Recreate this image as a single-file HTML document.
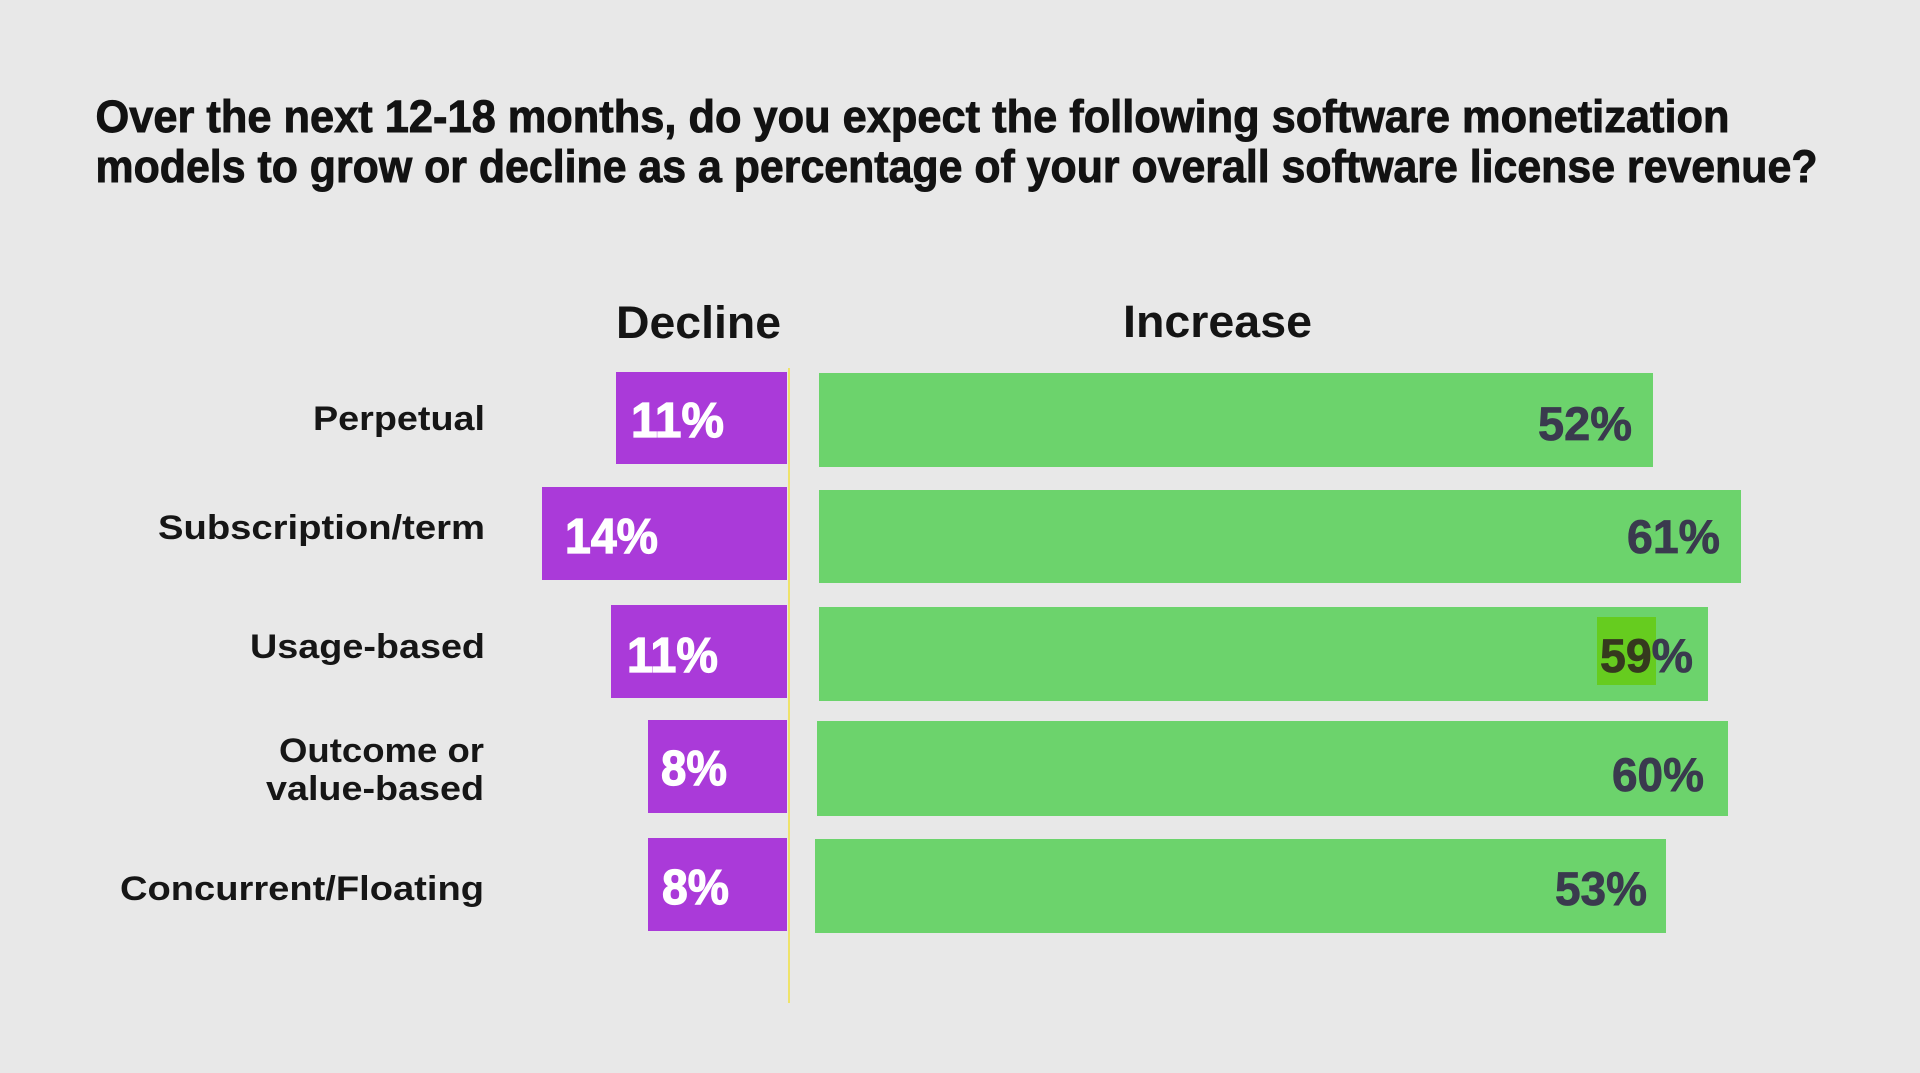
<!DOCTYPE html>
<html>
<head>
<meta charset="utf-8">
<style>
  html, body { margin:0; padding:0; background:#e8e8e8; }
  body { width:1920px; height:1073px; overflow:hidden; }
  svg { display:block; }
  text { font-family: "Liberation Sans", "DejaVu Sans", sans-serif; }
</style>
</head>
<body>
<svg width="1920" height="1073" viewBox="0 0 1920 1073" xmlns="http://www.w3.org/2000/svg">
  <rect x="0" y="0" width="1920" height="1073" fill="#e8e8e8"/>

  <!-- Title -->
  <g font-size="45" font-weight="bold" fill="#121212" stroke="#121212" stroke-width="0.9">
    <text x="95.5" y="132" textLength="1634" lengthAdjust="spacingAndGlyphs">Over the next 12-18 months, do you expect the following software monetization</text>
    <text x="95.5" y="182" textLength="1722" lengthAdjust="spacingAndGlyphs">models to grow or decline as a percentage of your overall software license revenue?</text>
  </g>

  <!-- Headers -->
  <text x="616" y="338" font-size="45" font-weight="bold" fill="#141414" textLength="165" lengthAdjust="spacingAndGlyphs">Decline</text>
  <text x="1123" y="337" font-size="45" font-weight="bold" fill="#141414" textLength="189" lengthAdjust="spacingAndGlyphs">Increase</text>

  <!-- Category labels -->
  <g font-size="34" font-weight="bold" fill="#161616" text-anchor="end">
    <text x="485" y="430" textLength="172" lengthAdjust="spacingAndGlyphs">Perpetual</text>
    <text x="485" y="539" textLength="327" lengthAdjust="spacingAndGlyphs">Subscription/term</text>
    <text x="485" y="658" textLength="235" lengthAdjust="spacingAndGlyphs">Usage-based</text>
    <text x="484" y="762" textLength="205" lengthAdjust="spacingAndGlyphs">Outcome or</text>
    <text x="484" y="800" textLength="218" lengthAdjust="spacingAndGlyphs">value-based</text>
    <text x="484" y="900" textLength="364" lengthAdjust="spacingAndGlyphs">Concurrent/Floating</text>
  </g>

  <!-- Decline bars (purple) -->
  <g fill="#aa3ad9">
    <rect x="616" y="372" width="171" height="92"/>
    <rect x="542" y="487" width="245" height="93"/>
    <rect x="611" y="605" width="176" height="93"/>
    <rect x="648" y="720" width="139" height="93"/>
    <rect x="648" y="838" width="139" height="93"/>
  </g>

  <!-- Increase bars (green) -->
  <g fill="#6cd36c">
    <rect x="819" y="373" width="834" height="94"/>
    <rect x="819" y="490" width="922" height="93"/>
    <rect x="819" y="607" width="889" height="94"/>
    <rect x="817" y="721" width="911" height="95"/>
    <rect x="815" y="839" width="851" height="94"/>
  </g>

  <!-- highlight behind 59 -->
  <rect x="1597" y="617" width="59" height="68" fill="#66cc1f"/>

  <!-- yellow center line -->
  <rect x="788" y="368" width="2" height="635" fill="#efe36a"/>

  <!-- Decline values -->
  <g font-size="49" font-weight="bold" fill="#ffffff" stroke="#ffffff" stroke-width="1.2">
    <text x="631" y="437" textLength="93" lengthAdjust="spacingAndGlyphs">11%</text>
    <text x="565" y="553" textLength="93" lengthAdjust="spacingAndGlyphs">14%</text>
    <text x="627" y="672" textLength="91" lengthAdjust="spacingAndGlyphs">11%</text>
    <text x="661" y="785" textLength="66" lengthAdjust="spacingAndGlyphs">8%</text>
    <text x="662" y="904" textLength="67" lengthAdjust="spacingAndGlyphs">8%</text>
  </g>

  <!-- Increase values -->
  <g font-size="47" font-weight="bold" fill="#3a3a4e" stroke="#3a3a4e" stroke-width="0.8">
    <text x="1538" y="440" textLength="94" lengthAdjust="spacingAndGlyphs">52%</text>
    <text x="1627" y="553" textLength="93" lengthAdjust="spacingAndGlyphs">61%</text>
    <text x="1600" y="672" textLength="93" lengthAdjust="spacingAndGlyphs"><tspan fill="#35391e" stroke="#35391e">59</tspan>%</text>
    <text x="1612" y="791" textLength="92" lengthAdjust="spacingAndGlyphs">60%</text>
    <text x="1555" y="905" textLength="92" lengthAdjust="spacingAndGlyphs">53%</text>
  </g>
</svg>
</body>
</html>
